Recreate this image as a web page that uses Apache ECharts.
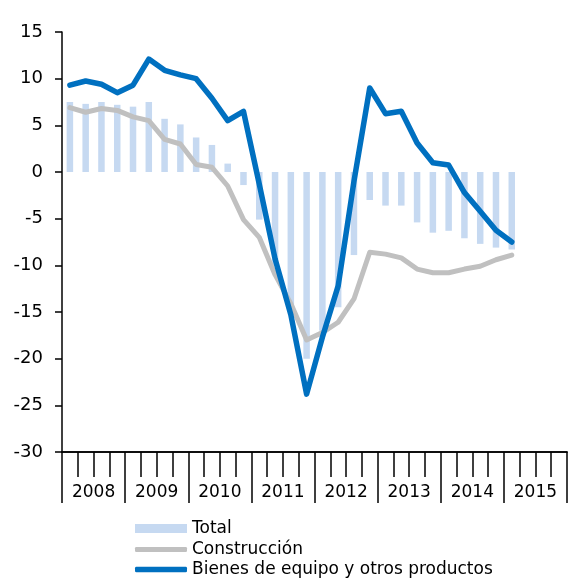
<!DOCTYPE html>
<html>
<head>
<meta charset="utf-8">
<script src="https://cdn.jsdelivr.net/npm/echarts@6/dist/echarts.min.js"></script>
<style>
html,body{margin:0;padding:0;background:#fff;}
#chart{width:575px;height:579px;}
</style>
</head>
<body>
<div id="chart"></div>
<script>
var years = ['2008','2009','2010','2011','2012','2013','2014','2015'];
var quarters = [];
years.forEach(function(y){ ['T1','T2','T3','T4'].forEach(function(q){ quarters.push(y + ' ' + q); }); });

var yTicks = [15, 10, 5, 0, -5, -10, -15, -20, -25, -30];

var total = [7.5,7.3,7.5,7.2,7.0,7.5,5.7,5.1,3.7,2.9,0.9,-1.4,-5.1,-10.0,-14.5,-20.0,-17.0,-14.5,-8.9,-3.0,-3.6,-3.6,-5.4,-6.5,-6.3,-7.1,-7.7,-8.1,-8.3];
var construccion = [6.9,6.4,6.8,6.6,5.9,5.5,3.5,3.0,0.8,0.5,-1.5,-5.1,-7.0,-11.0,-14.1,-18.0,-17.2,-16.1,-13.6,-8.6,-8.8,-9.2,-10.4,-10.8,-10.8,-10.4,-10.1,-9.4,-8.9];
var bienes = [9.3,9.75,9.4,8.5,9.3,12.1,10.9,10.4,10.0,7.9,5.5,6.5,-1.3,-9.3,-15.3,-23.8,-17.7,-12.2,-1.0,9.0,6.25,6.5,3.1,1.0,0.75,-2.2,-4.2,-6.25,-7.5];

var names = ['Total', 'Construcción', 'Bienes de equipo y otros productos'];

var FONT = 'DejaVu Sans, Liberation Sans, Arial, sans-serif';
var legendText = {fontFamily: FONT, fontSize: 17, color: '#000'};
function mkLegend(name, top, h, icon) {
  return {
    orient: 'vertical', left: 135, top: top, padding: 0,
    itemWidth: 52, itemHeight: h, icon: icon, itemGap: 0,
    textStyle: legendText,
    data: [name]
  };
}
var chart = echarts.init(document.getElementById('chart'), null, {renderer:'canvas'});
chart.setOption({
  animation: false,
  backgroundColor: '#fff',
  textStyle: {fontFamily: FONT, color: '#000'},
  grid: {left: 62, right: 8, top: 32, bottom: 127, containLabel: false},
  legend: [
    mkLegend(names[0], 520, 9, 'rect'),
    mkLegend(names[1], 541, 5, 'roundRect'),
    mkLegend(names[2], 561, 5.5, 'roundRect')
  ],
  xAxis: [
    {
      type: 'category', data: quarters, position: 'bottom', boundaryGap: true,
      axisLine: {show: true, onZero: false, lineStyle: {color: '#000', width: 1.5}},
      axisTick: {show: true, interval: 0, length: 25, lineStyle: {color: '#000', width: 1.5}},
      axisLabel: {show: false}, splitLine: {show: false}
    },
    {
      type: 'category', data: years, position: 'bottom', boundaryGap: true,
      axisLine: {show: true, onZero: false, lineStyle: {color: '#000', width: 1.5}},
      axisTick: {show: true, interval: 0, length: 51, lineStyle: {color: '#000', width: 1.5}},
      axisLabel: {show: true, interval: 0, margin: 32, fontSize: 17, fontFamily: FONT, color: '#000'},
      splitLine: {show: false}
    }
  ],
  yAxis: {
    type: 'value', min: -30, max: 15, interval: 5,
    axisLine: {show: true, lineStyle: {color: '#000', width: 1.5}},
    axisTick: {show: true, length: 7, lineStyle: {color: '#000', width: 1.5}},
    axisLabel: {margin: 19, fontSize: 18, fontFamily: FONT, color: '#000',
      formatter: function(v){ return yTicks.indexOf(v) >= 0 ? String(v) : ''; }},
    splitLine: {show: false}
  },
  series: [
    {
      name: names[0], type: 'bar', xAxisIndex: 0, data: total,
      barWidth: 6.5, itemStyle: {color: '#C6D9F1'}
    },
    {
      name: names[1], type: 'line', xAxisIndex: 0, data: construccion,
      symbol: 'none', lineStyle: {color: '#C0C0C0', width: 5, cap: 'round', join: 'round'},
      itemStyle: {color: '#C0C0C0'}
    },
    {
      name: names[2], type: 'line', xAxisIndex: 0, data: bienes,
      symbol: 'none', lineStyle: {color: '#0070C0', width: 5.5, cap: 'round', join: 'round'},
      itemStyle: {color: '#0070C0'}
    }
  ]
});
</script>
</body>
</html>
